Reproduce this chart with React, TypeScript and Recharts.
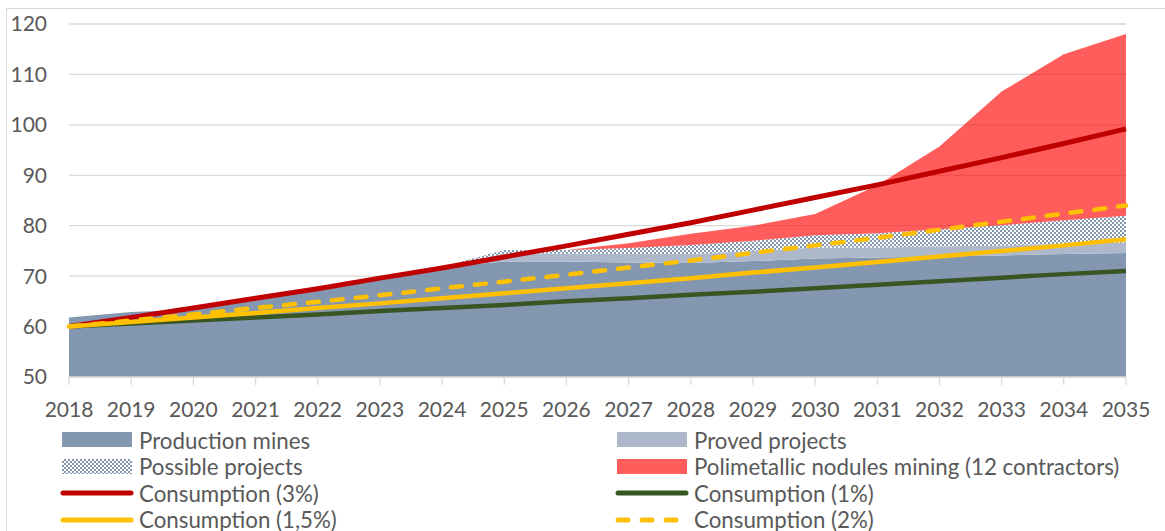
import React from "react";
import {
    Area,
    CartesianGrid,
    ComposedChart,
    Line,
    XAxis,
    YAxis,
} from "recharts";

const years = ["2018", "2019", "2020", "2021", "2022", "2023", "2024", "2025", "2026",
    "2027", "2028", "2029", "2030", "2031", "2032", "2033", "2034", "2035"];

const productionMines = [61.8, 62.9, 63.4, 65.5, 67.9, 69.8, 71.8, 72.9, 72.9, 72.7, 72.6, 73.0, 73.5, 73.7, 73.9, 74.1, 74.4, 74.6];
const provedProjects = [0, 0, 0, 0, 0, 0, 0, 1.6, 1.6, 1.7, 1.8, 2.0, 2.2, 2.0, 2.0, 2.0, 2.0, 2.0];
const possibleProjects = [0, 0, 0, 0, 0, 0, 0, 0.7, 0.7, 1.2, 1.8, 2.0, 2.4, 2.8, 3.4, 4.0, 4.7, 5.4];
const nodulesMining = [0, 0, 0, 0, 0, 0, 0, 0, 0, 0.9, 2.2, 3.0, 4.2, 9.5, 16.4, 26.5, 32.9, 36.0];

const consumption3 = [60, 61.8, 63.7, 65.6, 67.5, 69.6, 71.6, 73.8, 76.0, 78.3, 80.6, 83.1, 85.6, 88.1, 90.8, 93.5, 96.3, 99.2];
const consumption1 = [60, 60.6, 61.2, 61.8, 62.4, 63.1, 63.7, 64.3, 65.0, 65.6, 66.3, 66.9, 67.6, 68.3, 69.0, 69.7, 70.4, 71.0];
const consumption15 = [60, 60.9, 61.8, 62.7, 63.7, 64.6, 65.6, 66.6, 67.6, 68.6, 69.6, 70.7, 71.7, 72.8, 73.9, 75.0, 76.1, 77.3];
const consumption2 = [60, 61.2, 62.4, 63.7, 64.9, 66.2, 67.6, 68.9, 70.3, 71.7, 73.1, 74.6, 76.1, 77.6, 79.2, 80.8, 82.4, 84.0];

const yTicks = [50, 60, 70, 80, 90, 100, 110, 120];

const data = years.map((year, i) => ({
    year,
    production: productionMines[i],
    proved: provedProjects[i],
    possible: possibleProjects[i],
    nodules: nodulesMining[i],
    c3: consumption3[i],
    c1: consumption1[i],
    c15: consumption15[i],
    c2: consumption2[i],
}));

const FONT = "Lato, 'Liberation Sans', sans-serif";
const TEXT = "#595959";
const GRID = "#D9D9D9";
const DARK = "#8497B0";
const LIGHT = "#ADB9CA";
const RED_AREA = "#FF5C5C";
const RED = "#C00000";
const GREEN = "#375623";
const YELLOW = "#FFC000";

function HatchPattern({ id }: { id: string }) {
    return (
        <pattern id={id} width={4} height={4} patternUnits="userSpaceOnUse">
            <rect width={4} height={4} fill={DARK} />
            <rect x={0} y={0} width={2} height={2} fill="#fff" />
            <rect x={2} y={2} width={2} height={2} fill="#fff" />
        </pattern>
    );
}

type LegendItem = { label: string, kind: "box" | "hatch" | "line" | "dash", color: string };

const legendLeft: LegendItem[] = [
    { label: "Production mines", kind: "box", color: DARK },
    { label: "Possible projects", kind: "hatch", color: DARK },
    { label: "Consumption (3%)", kind: "line", color: RED },
    { label: "Consumption (1,5%)", kind: "line", color: YELLOW },
];
const legendRight: LegendItem[] = [
    { label: "Proved projects", kind: "box", color: LIGHT },
    { label: "Polimetallic nodules mining (12 contractors)", kind: "box", color: RED_AREA },
    { label: "Consumption (1%)", kind: "line", color: GREEN },
    { label: "Consumption (2%)", kind: "dash", color: YELLOW },
];

function Swatch({ item }: { item: LegendItem }) {
    return (
        <svg width={74} height={20} style={{ display: "block" }}>
            <defs><HatchPattern id="hatchLegend" /></defs>
            {item.kind === "box" && <rect x={2} y={2} width={70} height={15} fill={item.color} />}
            {item.kind === "hatch" && <rect x={2} y={2} width={70} height={15} fill="url(#hatchLegend)" />}
            {item.kind === "line" && (
                <line x1={3} y1={10} x2={71} y2={10} stroke={item.color} strokeWidth={5} strokeLinecap="round" />
            )}
            {item.kind === "dash" && (
                <line x1={3} y1={10} x2={71} y2={10} stroke={item.color} strokeWidth={5}
                    strokeLinecap="round" strokeDasharray="10 14" />
            )}
        </svg>
    );
}

function LegendColumn({ items, left }: { items: LegendItem[], left: number }) {
    return (
        <div style={{ position: "absolute", left, top: 427 }}>
            {items.map((item) => (
                <div key={item.label} style={{ display: "flex", alignItems: "center", height: 26.5 }}>
                    <Swatch item={item} />
                    <span style={{ marginLeft: 5, fontFamily: FONT, fontSize: 22.3, color: TEXT, whiteSpace: "nowrap" }}>
                        {item.label}
                    </span>
                </div>
            ))}
        </div>
    );
}

export default function App() {
    return (
        <div style={{ position: "fixed", left: 0, top: 0, width: 1165, height: 531, overflow: "hidden", background: "#fff" }}>
            <div style={{ position: "absolute", left: 6, top: 8, width: 1200, height: 600, border: `1px solid ${GRID}` }} />
            <div style={{ position: "absolute", left: 0, top: 0 }}>
                <ComposedChart
                    width={1165}
                    height={531}
                    data={data}
                    margin={{ top: 24, right: 39, left: 0, bottom: 104 }}
                >
                    <defs><HatchPattern id="hatchArea" /></defs>
                    <CartesianGrid vertical={false} stroke={GRID} strokeWidth={1.3} />
                    <XAxis
                        dataKey="year"
                        height={50}
                        axisLine={{ stroke: GRID, strokeWidth: 1.3 }}
                        tickLine={{ stroke: GRID, strokeWidth: 1.3 }}
                        tickSize={8}
                        tickMargin={17}
                        interval={0}
                        tick={{ fill: TEXT, fontSize: 21, fontFamily: FONT }}
                    />
                    <YAxis
                        width={69}
                        domain={[50, 120]}
                        ticks={yTicks}
                        allowDataOverflow
                        axisLine={false}
                        tickLine={false}
                        tickSize={0}
                        tickMargin={22}
                        tick={{ fill: TEXT, fontSize: 21, fontFamily: FONT }}
                    />
                    <Area type="linear" dataKey="production" stackId="s" fill={DARK} fillOpacity={1} stroke="none" isAnimationActive={false} />
                    <Area type="linear" dataKey="proved" stackId="s" fill={LIGHT} fillOpacity={1} stroke="none" isAnimationActive={false} />
                    <Area type="linear" dataKey="possible" stackId="s" fill="url(#hatchArea)" fillOpacity={1} stroke="none" isAnimationActive={false} />
                    <Area type="linear" dataKey="nodules" stackId="s" fill="#FF0000" fillOpacity={0.64} stroke="none" isAnimationActive={false} />
                    <Line type="linear" dataKey="c3" stroke={RED} strokeWidth={5} dot={false} activeDot={false} isAnimationActive={false} />
                    <Line type="linear" dataKey="c1" stroke={GREEN} strokeWidth={4.5} dot={false} activeDot={false} isAnimationActive={false} />
                    <Line type="linear" dataKey="c15" stroke={YELLOW} strokeWidth={4.5} dot={false} activeDot={false} isAnimationActive={false} />
                    <Line type="linear" dataKey="c2" stroke={YELLOW} strokeWidth={4.5} strokeDasharray="11 13" strokeLinecap="round" dot={false} activeDot={false} isAnimationActive={false} />
                </ComposedChart>
            </div>
            <LegendColumn items={legendLeft} left={60} />
            <LegendColumn items={legendRight} left={615} />
        </div>
    );
}
